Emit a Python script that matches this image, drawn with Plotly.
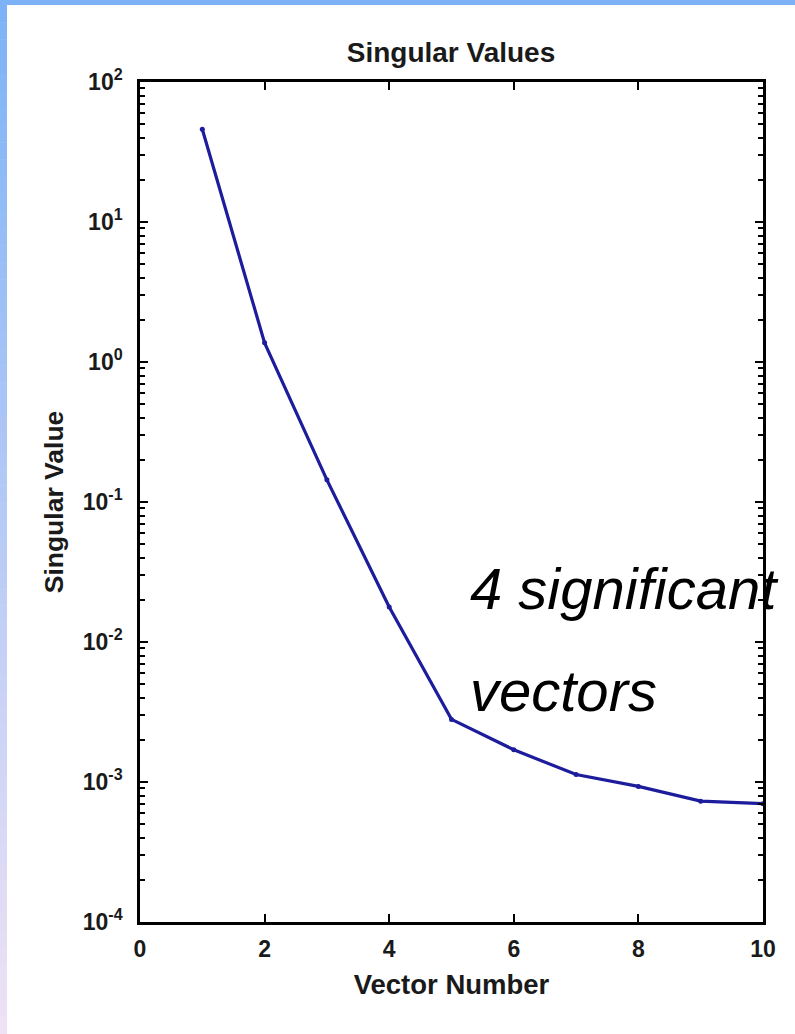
import plotly.graph_objects as go

# Singular values of the decomposition, one per vector
vector_number = [1, 2, 3, 4, 5, 6, 7, 8, 9, 10]
singular_value = [46.0, 1.37, 0.144, 0.0178, 0.0028, 0.0017, 0.00113, 0.00093, 0.00073, 0.00070]

y_tick_vals = [1e2, 1e1, 1e0, 1e-1, 1e-2, 1e-3, 1e-4]
y_tick_text = ["10<sup>2</sup>", "10<sup>1</sup>", "10<sup>0</sup>", "10<sup>-1</sup>",
               "10<sup>-2</sup>", "10<sup>-3</sup>", "10<sup>-4</sup>"]
x_tick_vals = [0, 2, 4, 6, 8, 10]

W, H = 795, 1034
L, R, T, B = 140, 32, 82, 112
pw, ph = W - L - R, H - T - B


def px_x(p):
    return (p - L) / pw


def px_y(p):
    return (H - B - p) / ph


fig = go.Figure()
fig.add_trace(go.Scatter(
    x=vector_number, y=singular_value,
    mode="lines+markers",
    line=dict(color="#1c1c9c", width=3.2),
    marker=dict(color="#1c1c9c", size=5),
    showlegend=False,
))

# slide frame: blue band along the top, blue-to-lavender band down the left
shapes = [dict(type="rect", xref="paper", yref="paper",
               x0=px_x(0), x1=px_x(W), y0=px_y(5), y1=px_y(0),
               fillcolor="#7db3f6", line_width=0, layer="below")]
top = (125, 179, 246)
bot = (238, 226, 244)
n = 60
for i in range(n):
    t = i / (n - 1)
    c = tuple(round(top[k] + (bot[k] - top[k]) * t) for k in range(3))
    y0 = 5 + (H - 5) * i / n
    y1 = 5 + (H - 5) * (i + 1) / n
    shapes.append(dict(type="rect", xref="paper", yref="paper",
                       x0=px_x(0), x1=px_x(7), y0=px_y(y1 + 0.5), y1=px_y(y0),
                       fillcolor="rgb(%d,%d,%d)" % c, line_width=0, layer="below"))

FAM = "Liberation Sans, Arial, sans-serif"
axis_font = dict(family=FAM, size=23, color="#1a1a1a", weight="bold")
title_font = dict(family=FAM, size=28, color="#1a1a1a", weight="bold")
xlabel_font = dict(family=FAM, size=27.5, color="#1a1a1a", weight="bold")
ylabel_font = dict(family=FAM, size=26.5, color="#1a1a1a", weight="bold")

fig.update_layout(
    width=W, height=H,
    margin=dict(l=L, r=R, t=T, b=B),
    paper_bgcolor="white", plot_bgcolor="white",
    shapes=shapes,
    title=dict(text="Singular Values", xref="container", x=451 / W, xanchor="center",
               y=1 - 52 / H, yanchor="middle", font=title_font),
    xaxis=dict(range=[0, 10], tickvals=x_tick_vals, ticks="inside", ticklen=8, tickwidth=2,
               tickcolor="black", showline=True, linecolor="black", linewidth=2.5,
               mirror="ticks", showgrid=False, zeroline=False, tickfont=axis_font,
               ticklabelstandoff=5,
               title=dict(text="Vector Number", standoff=14, font=xlabel_font)),
    yaxis=dict(type="log", range=[-4, 2], tickvals=y_tick_vals, ticktext=y_tick_text,
               ticks="inside", ticklen=8, tickwidth=2, tickcolor="black",
               showline=True, linecolor="black", linewidth=2.5, mirror="ticks",
               showgrid=False, zeroline=False, tickfont=axis_font,
               ticklabelstandoff=10,
               minor=dict(ticks="inside", ticklen=5, tickwidth=1.5, tickcolor="black",
                          dtick="D1", showgrid=False),
               title=dict(text="Singular Value", standoff=12, font=ylabel_font)),
    annotations=[
        dict(text="<i>4 significant</i>", xref="paper", yref="paper",
             x=px_x(468), y=px_y(588), xanchor="left", yanchor="middle", showarrow=False,
             font=dict(family=FAM, size=58, color="black")),
        dict(text="<i>vectors</i>", xref="paper", yref="paper",
             x=px_x(468), y=px_y(690), xanchor="left", yanchor="middle", showarrow=False,
             font=dict(family=FAM, size=58, color="black")),
    ],
)

fig.write_html("out.html")
